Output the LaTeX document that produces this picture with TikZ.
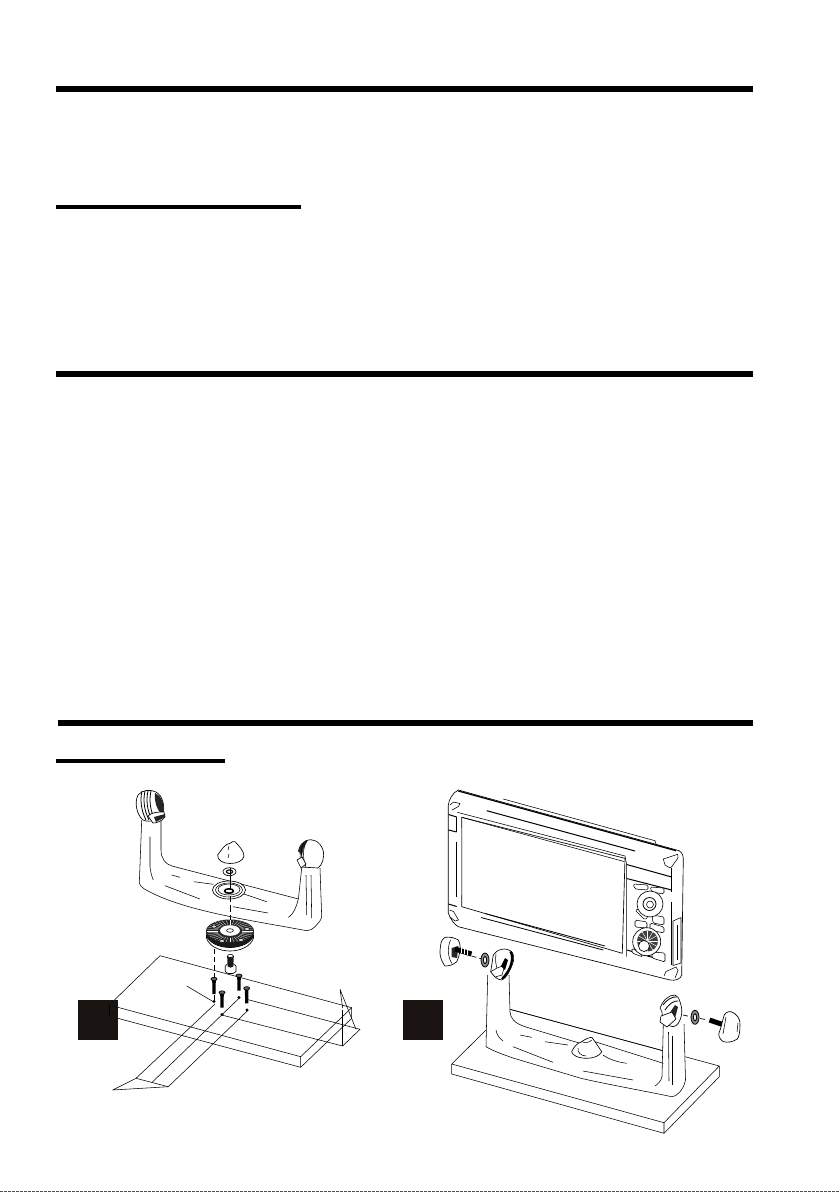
\documentclass[tikz,border=0pt]{standalone}
\usepackage{tikz}
\definecolor{tabblack}{HTML}{1A1512}
\begin{document}
\begin{tikzpicture}
 [x=1pt,y=-1pt,line join=round,
  thinline/.style={draw=black,line width=0.55pt},
  boldline/.style={draw=black,line width=1.1pt},
  bodyfill/.style={draw=black,line width=0.65pt,fill=white},
  darkfill/.style={fill=black!85},
  axisline/.style={draw=black,line width=0.7pt,dash pattern=on 5pt off 3pt}]
 \useasboundingbox (0,0) rectangle (840,1192);
 % rules
 \foreach \xa/\ya/\xb/\yb in {56/86/753/92,56/205/301/209,56/371/753/377,58/720/753/726,56/759/225/763}
  \fill[black] (\xa,\ya) rectangle (\xb,\yb);
 \draw[black!70,line width=1pt,dash pattern=on 2.5pt off 1.5pt] (0,1191.5) -- (840,1191.5);

 % mounting board, left
 \draw[thinline] (160,955.7) -- (351.7,1007.7) -- (300.7,1056.7) -- (109.3,1005) -- cycle;
 \draw[thinline] (109.3,1005) -- (109.3,1016) -- (300.7,1067.3) -- (300.7,1056.7);
 \draw[thinline] (300.7,1067.3) -- (351.7,1018.3) -- (351.7,1007.7);
 % dimension lines
 \draw[thinline] (215,1004) -- (136,1078.3) -- (168.3,1086.7) -- (248.3,1010);
 \draw[thinline] (240,997.3) -- (151.7,1082.7);
 \draw[thinline] (136,1078.3) -- (112.7,1090) -- (168.3,1086.7);
 \draw[thinline] (221.7,1015) -- (342.7,1046) -- (360,1029.3) -- (246.7,999.3);
 \draw[thinline] (342.7,1010) -- (342.7,1046);
 \draw[thinline] (342.7,1008) -- (340,989.3) -- (356,1029.3);
 \draw[thinline] (186.7,986) -- (213.3,1001.7);
 \foreach \xa/\ya in {214/1001.5,222/1014.5,247/1010,239/997.5}
  \fill[black] (\xa,\ya) circle (1.7);

 % bracket, left
 \fill[white] (141.7,820) -- (139.3,883.3) .. controls (141,888) and (146,890) .. (152,893)
  .. controls (190,912) and (255,921) .. (306.7,930.7) -- (321.7,916.7) -- (320,868) -- (301.7,868) -- (298.5,900) -- (172,866)
  .. controls (165,864) and (161,858) .. (161,850) -- (161,820) -- cycle;
 \draw[thinline] (141.7,820) -- (139.3,883.3) .. controls (141,888) and (146,890) .. (152,893)
  .. controls (190,912) and (255,921) .. (306.7,930.7) .. controls (310,930.5) and (313,929) .. (315,926.7)
  .. controls (318,923) and (321,921) .. (321.7,916.7) -- (320,868);
 \draw[thinline] (301.7,868) -- (298.5,898) .. controls (297,905) and (294,914) .. (288.3,917.3);
 \draw[thinline] (161,820) -- (161,850) .. controls (161,858) and (165,864) .. (172,866) -- (298.5,899);
 \foreach \xa/\ya/\xb/\yb in {171.7/875/180/877.3,194/881.7/213.3/884.3,165/885.7/200/899,241.7/893.3/266.7/901.7,233/906.7/268/913,306/875/306.7/915,311/875/311.7/918}
  \draw[thinline] (\xa,\ya) -- (\xb,\yb);
 \draw[thinline] (150,836.7) -- (150,866.7) .. controls (150.5,872) and (152,877) .. (153.3,880);

 % left arm head
 \draw[bodyfill] (138,795) .. controls (142,790) and (150,789) .. (156,792) .. controls (163,796) and (165,806) .. (163,815)
  .. controls (160,820) and (150,823) .. (143,820) .. controls (137,815) and (134,803) .. (138,795) -- cycle;
 \fill[black!85] (155,793) .. controls (163,797) and (165,806) .. (163,815) .. controls (158,812) and (154,803) .. (155,793) -- cycle;
 \foreach \xa in {142,145,148,151}
  \draw[line width=0.8pt] (\xa,791) .. controls (\xa-2,800) and (\xa-1,810) .. (\xa+4,820);
 \draw[bodyfill] (148,816) .. controls (152,812) and (158,812) .. (164,812) -- (165,817) .. controls (161,822) and (156,823) .. (153,823) -- cycle;
 \fill[black!85] (154,817) -- (165,814) -- (165,817) -- (156,822) -- cycle;
 % right arm head
 \draw[bodyfill] (301,867) .. controls (299,855) and (300,846) .. (306,840.5) .. controls (312,838) and (320,841) .. (323,850)
  .. controls (325,858) and (322,865) .. (318,868) -- cycle;
 \fill[black!85] (298,851) .. controls (299,845) and (303,841) .. (308,840) .. controls (304,845) and (303,851) .. (302,855) -- cycle;
 \draw[line width=0.8pt] (304,842) .. controls (300,848) and (301,856) .. (303,860);
 \draw[thinline] (307,841) .. controls (302,848) and (303,860) .. (306,867);
 \draw[bodyfill] (297,860) -- (302,857) -- (306,864) -- (301,868) -- cycle;

 % stack of parts on the axis
 \draw[bodyfill] (217.7,855) .. controls (222,849) and (225,844) .. (230,843.3) .. controls (232,841.5) and (234,841) .. (235,841.7)
  .. controls (239,846) and (244,851) .. (244,856) .. controls (243,861) and (237,863.5) .. (230,863.5)
  .. controls (223,863.5) and (217,860) .. (217.7,855) -- cycle;
 \draw[thinline] (229,846) -- (228,850);
 \draw[thinline] (229,854) -- (228,858);
 \draw[bodyfill] (229.5,871.7) ellipse (6.5 and 4);
 \draw[boldline] (229.5,871.7) ellipse (3.2 and 1.8);
 \draw[bodyfill] (229,890) ellipse (16.5 and 9);
 \draw[thinline] (229,890) ellipse (13.5 and 7);
 \draw[thinline] (229,889.5) ellipse (11 and 5.5);
 \draw[line width=1.6pt] (229,891) ellipse (4.5 and 2.2);
 \draw[line width=1pt] (230,868) -- (230,890);
 \draw[line width=0.8pt] (230,896) -- (230,902);
 \draw[line width=0.8pt] (230,905) -- (230,912);
 \draw[line width=0.8pt] (230,915) -- (230,930);
 % disc
 \fill[black!90] (206,932) .. controls (206,941) and (217,948) .. (230,948) .. controls (243,948) and (254,941) .. (254,932) -- cycle;
 \draw[bodyfill] (206.5,935) .. controls (208,942) and (218,947.5) .. (230,947.5) .. controls (242,947.5) and (252,942) .. (253.5,935) -- (253.5,938)
  .. controls (251,946) and (241,951) .. (230,951) .. controls (219,951) and (209,946) .. (206.5,938) -- cycle;
 \fill[black!85] (230,931) ellipse (24 and 11.5);
 \foreach \ang in {0,10,...,350}
  \draw[white,line width=0.25pt] ({230+12*cos(\ang)},{931+6.5*sin(\ang)}) -- ({230+23*cos(\ang)},{931+11*sin(\ang)});
 \fill[white] (230,930.5) ellipse (10 and 5.3);
 \draw[thinline] (230,930.5) ellipse (3.5 and 1.8);
 \foreach \xa/\ya in {214/926.5,247/929,222/941,241/940}
  \draw[line width=0.5pt,fill=white!85!black] (\xa,\ya) ellipse (2.6 and 1.5);
 % bolt
 \draw[line width=0.6pt,fill=white] (225.2,966) -- (228,963.5) -- (233,963.5) -- (236,966) -- (236,971.5) -- (233,973.5) -- (228,973.5) -- (225.2,971.5) -- cycle;
 \fill[black!90] (227.2,957) -- (227.7,966.5) .. controls (229,968) and (232,968) .. (233.3,966.5) -- (233.7,957) -- cycle;
 \draw[thinline,fill=white] (227.2,956.5) .. controls (228,953.5) and (233,953.5) .. (233.7,956.5) .. controls (232,958) and (229,958) .. (227.2,956.5) -- cycle;
 % screws
 \foreach \xa/\ya in {214/979,222/992.5,239/975.7,246.7/988.3}
 {
  \fill[black] (\xa-1.8,\ya) -- (\xa-1.6,\ya+15) -- (\xa+1.6,\ya+15) -- (\xa+1.8,\ya) -- cycle;
  \draw[line width=0.7pt,fill=black!60] (\xa,\ya) ellipse (3 and 1.7);
 }
 \draw[axisline] (214,948.5) -- (214,977);
 \draw[line width=0.8pt] (214,995) -- (214,1001);
 % tab 1
 \fill[tabblack] (78,1000) rectangle (118,1040);
 \draw[thinline] (109.3,1005) -- (109.3,1016);

 % stand board, right
 \draw[thinline] (510,1009.3) -- (719.3,1066) -- (664,1122.7) -- (451.7,1064) -- (486,1030);
 \draw[thinline] (451.7,1064) -- (451.7,1074) -- (664,1133.3) -- (664,1122.7);
 \draw[thinline] (664,1133.3) -- (719.3,1076.7) -- (719.3,1066);
 % stand bracket
 \fill[white] (487.7,975) -- (486,1046.7) .. controls (495,1052) and (505,1055) .. (513,1058) -- (580,1078)
  .. controls (600,1083) and (650,1092) .. (671.7,1096.7) -- (685,1080) -- (684,1022) -- (663,1022) -- (662,1063.5) -- (595,1041.7)
  -- (525,1026.7) -- (510,1012) -- (509,975) -- cycle;
 \fill[white] (663,1022) -- (684,1022) -- (685,1082) -- (655,1090) -- (662,1060) -- cycle;
 \draw[thinline] (487.7,975) -- (486,1046.7) .. controls (495,1052) and (505,1055) .. (513,1058) -- (580,1078)
  .. controls (600,1083) and (650,1092) .. (671.7,1096.7) .. controls (676,1096) and (678,1094) .. (680,1091.7)
  .. controls (683,1088) and (684.5,1085) .. (685.5,1080) -- (684,1024);
 \draw[thinline] (509,975) -- (510,1012) .. controls (510.5,1018) and (514,1023) .. (525,1026.7) -- (580,1043.3);
 \draw[thinline] (595,1041.7) -- (663.3,1063.3);
 \draw[thinline] (510,1009.3) -- (663,1050.7);
 \draw[thinline] (663.3,1025) -- (662,1076.7) .. controls (661,1081) and (658,1084) .. (655,1086);
 \draw[thinline] (496,1030) .. controls (496.5,1034) and (499,1038) .. (503,1041);
 \foreach \xa/\ya/\xb/\yb in {520/1035/531.7/1037.3,545/1041.7/568/1045,513/1046.7/553/1062.3,583/1071/633/1080,668.5/1032/669/1081,672.5/1036/672.5/1085}
  \draw[thinline] (\xa,\ya) -- (\xb,\yb);
 \draw[thinline] (603,1055) .. controls (610,1060) and (618,1062) .. (626.7,1063.3);
 % base knob
 \draw[bodyfill] (571.7,1051.7) .. controls (574,1046) and (578,1043) .. (581.7,1041.7) .. controls (585,1039) and (589,1037.5) .. (591.7,1037.3)
  .. controls (594,1040) and (598,1046) .. (601.7,1051.7) .. controls (600,1056) and (593,1058.3) .. (586.7,1058.3)
  .. controls (578,1058.3) and (572,1055) .. (571.7,1051.7) -- cycle;
 \draw[thinline] (578,1048) .. controls (577,1052) and (581,1056) .. (586,1056);
 \draw[thinline] (581.7,1041.7) .. controls (585,1043) and (589,1043) .. (591.7,1040);

 % display unit
 \draw[bodyfill] (458.3,790) -- (676.7,850) .. controls (680,850.5) and (683,853) .. (683.3,858.3)
  -- (681.7,975) .. controls (681,979) and (675,981) .. (670,980) -- (458.3,926.7) .. controls (455,925) and (450,919) .. (448.3,913)
  -- (448.3,805) .. controls (449,800) and (452,793) .. (458.3,790) -- cycle;
 \draw[line width=1.2pt] (458.3,791) -- (676,850.7);
 \draw[thinline] (503.3,799) -- (655,840.7) -- (656,844);
 \draw[line width=1pt] (486.7,810.7) -- (635,851);
 % screen
 \draw[bodyfill] (461.7,817.3) -- (625,858.3) -- (622.3,953.3) -- (461.7,906.7) -- cycle;
 \draw[thinline] (457.3,812.3) -- (625,856) -- (626.7,865) -- (626.7,956.7);
 \draw[thinline] (461.7,817.3) -- (624,861.5);
 \draw[black!45,line width=1.4pt] (461.7,828) -- (461.7,895);
 \draw[line width=0.9pt] (456.7,841.7) -- (456.7,896.7);
 \draw[line width=0.8pt] (481,917.5) -- (603.3,950);
 \draw[line width=0.8pt] (485,913.5) -- (605,946);
 % left edge marks
 \foreach \xa/\ya/\xb/\yb in {448.5/814.5/456.7/817,448.5/830/456.7/832,448.5/904/456.7/906.5}
  \draw[line width=1pt] (\xa,\ya) -- (\xb,\yb);
 \draw[thinline] (456.7,817) -- (456.7,832);
 \draw[thinline] (450,805) -- (453.5,802) -- (460,803.5) -- (458.5,806.5) -- (452,810);
 \draw[thinline] (449.5,910) -- (453.5,911.5) -- (458.5,920) -- (455,921) -- (450,917);
 % right corners
 \draw[thinline] (663.3,859) -- (677.7,854.3) -- (678,858) -- (671.7,866.7) -- (670,868) -- (665,865) -- cycle;
 \draw[thinline] (664,976) -- (666,971.5) -- (676,967) -- (678,970.5) -- (675,978);
 \draw[thinline] (671.7,868) -- (671.7,891.7);
 \draw[line width=1pt] (626.7,864.5) -- (671.7,877);
 \draw[line width=1pt] (626.7,878.5) -- (671.7,890);
 \draw[line width=1pt] (627,950) -- (665,961);
 % keys
 \foreach \xa/\ya/\xb/\yb/\xc/\yc/\xd/\yd in {633/884/648/885/648/890/635/889,650/887/664/888/664/894/652/892,635/910/644/908/648/917/645/920,652/915/664/917/664/925/653/923,635/920/647/922/647/928/635/927,650/923/664/927/664/933/650/930,632/948/640/953/643/957/632/953,652/952/665/953/665/962/652/958}
  \draw[thinline,rounded corners=1.5pt,fill=white] (\xa,\ya) -- (\xb,\yb) -- (\xc,\yc) -- (\xd,\yd) -- cycle;
 \draw[bodyfill] (650,904) circle (13);
 \draw[line width=0.8pt] (649.5,904) circle (6.5);
 \draw[thinline] (650,904.5) circle (3.5);
 \draw[bodyfill] (646.7,941.7) circle (14);
 \fill[black!75] (647.5,941) circle (10.5);
 \foreach \ang in {0,30,...,330}
  \draw[white,line width=0.5pt] (647.5,941) -- ++(\ang:10.5);
 \draw[bodyfill] (644,946) circle (5.5);
 % side slot
 \draw[thinline] (673,921) -- (681,917.5) -- (681,963) -- (673,965.5) -- cycle;
 \draw[line width=1pt] (671.7,902) -- (671.7,918);
 \draw[thinline] (671.7,918) -- (671.7,965);
 \draw[thinline] (677,925) -- (677,960);

 % left head of the stand
 \draw[bodyfill] (493.3,955) .. controls (495,952) and (498,950) .. (501.7,949.3) .. controls (505,948.5) and (509,949.5) .. (511.7,951.7)
  .. controls (514,955) and (514,958) .. (513.3,961.7) .. controls (512,966) and (510,970) .. (508.3,973.3) .. controls (506,977) and (504,979) .. (501.7,980)
  .. controls (498,979.5) and (496,978) .. (495,976.7) -- (490.7,971.7) -- (493.3,955) -- cycle;
 \draw[line width=2.3pt] (510.5,951.5) .. controls (514,957) and (512,969) .. (502,979);
 \draw[thinline] (496,954) .. controls (495,960) and (496,965) .. (497,968);
 \draw[thinline,fill=white] (490.7,971.7) -- (495,977) -- (502,975) -- (505,965) -- (497,968) -- cycle;
 \fill[black] (501,966) -- (505,958) -- (508,960) -- (505,970) -- cycle;
 % right head of the stand
 \draw[bodyfill] (660,1008) .. controls (662,1003) and (665,999) .. (666.7,998.3) .. controls (669,996) and (672,995) .. (675,995) .. controls (678,997) and (680,999) .. (680,1001.7)
  .. controls (681.5,1006) and (682,1010) .. (681.7,1013.3) .. controls (681,1018) and (680,1021) .. (678.3,1023.3) .. controls (677,1025) and (675,1026.5) .. (673.3,1026.7)
  -- (666.7,1025) -- (663,1023) -- (662,1012) -- cycle;
 \foreach \xa/\ya/\xb/\yb in {663/1005/677/997,665/1010/678/1001}
  \draw[line width=0.8pt] (\xa,\ya) .. controls (\xa+3,\ya-5) and (\xb-4,\yb-1) .. (\xb,\yb);
 \fill[black!85] (669,1014) -- (675,1005) -- (678,1007) -- (675,1018) -- cycle;
 \draw[bodyfill] (660,1022) -- (661,1016) -- (672,1012) -- (676,1019) -- (667,1027) -- cycle;

 % left knob, bolt and washer
 \draw[bodyfill] (441,943) .. controls (442,939.5) and (444,938) .. (445,937.3) .. controls (450,936.5) and (455,938) .. (458.3,940)
  .. controls (460,943) and (460.5,947) .. (460,950) .. controls (459.5,955) and (458,959) .. (456.7,961.7)
  .. controls (453,965) and (449,966) .. (445,966) .. controls (442,962) and (440,957) .. (440,953) .. controls (440,949) and (440.5,946) .. (441,943) -- cycle;
 \draw[thinline] (450.5,940) .. controls (447,948) and (448,958) .. (452,963.5);
 \fill[black!85] (451.7,948) -- (458.5,946) -- (457,958) -- (451.7,957) -- cycle;
 \draw[line width=5pt] (455,949) -- (471.5,954);
 \foreach \xa/\ya in {461/950.5,464/951.5,467/952.5}
  \draw[white,line width=0.3pt] (\xa,\ya-2.5) -- (\xa,\ya+2.5);
 \draw[axisline] (471.5,956) -- (482,959);
 \draw[line width=0.8pt,fill=black!45] (485,960) ellipse (4 and 7);
 \draw[line width=0.9pt,fill=white] (485,960) ellipse (1.6 and 3.6);
 % right knob, bolt and washer
 \draw[axisline] (683,1015) -- (692,1017);
 \draw[line width=0.8pt,fill=black!45] (695,1017.3) ellipse (4 and 7);
 \draw[line width=0.9pt,fill=white] (695,1017.3) ellipse (1.6 and 3.6);
 \draw[axisline] (700,1018.5) -- (708,1020);
 \draw[line width=5pt] (709.5,1020) -- (722,1024.3);
 \draw[bodyfill] (723.3,1018) .. controls (724,1013) and (728,1011) .. (731,1011.7) .. controls (736,1013) and (741,1019) .. (740,1025)
  .. controls (740,1032) and (739,1037) .. (737.3,1039) .. controls (733,1042) and (727,1043) .. (723,1041.5) .. controls (719,1039) and (718,1034) .. (719.3,1032)
  .. controls (721,1028) and (722,1023) .. (723.3,1018) -- cycle;
 \draw[thinline] (726,1017) -- (723,1034);
 \draw[thinline] (738,1023) -- (737,1032);
 % tab 2
 \fill[tabblack] (403,1000) rectangle (443,1040);
\end{tikzpicture}
\end{document}
